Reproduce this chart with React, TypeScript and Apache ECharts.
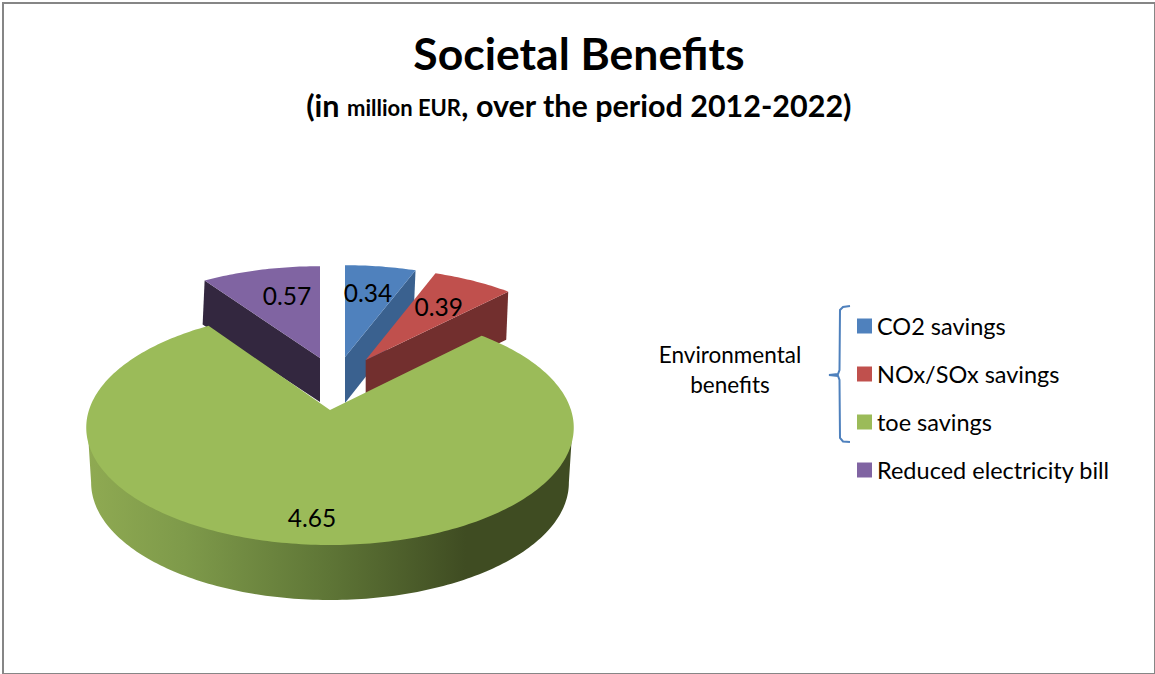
import React, { useEffect, useRef } from "react";
import * as echarts from "echarts";

const categories = ["CO2 savings", "NOx/SOx savings", "toe savings", "Reduced electricity bill"];
const values = [0.34, 0.39, 4.65, 0.57];
const topColors = ["#4F81BD", "#C0504D", "#9BBB59", "#8064A2"];
const cutColors = ["#3A618F", "#722F2E", "#3F4C22", "#33273F"];

// Where each wedge sits once pulled out of the pie, and how it is layered.
const wedgeLayout = [
  { dx: 15, dy: -53, sx: 0.95, sy: 0.92, depth: 46, cut: "end", z: 2, labelDx: 23, labelDy: -65 },
  { dx: 35.7, dy: -50, sx: 0.94, sy: 0.92, depth: 48, cut: "end", z: 3, labelDx: 73, labelDy: -54 },
  { dx: 0, dy: 0, sx: 1, sy: 1, depth: 55, cut: "rim", z: 4, labelDx: -18, labelDy: 107 },
  { dx: -10, dy: -52, sx: 0.95, sy: 0.92, depth: 44, cut: "start", z: 1, labelDx: -33, labelDy: -63 },
];

// Tilted-disc projection of the pie's circular rim.
const PIE_X = 330;
const PIE_Y = 410;
const RADIUS_X = 241;
const RADIUS_Y = 114.75;
const PERSPECTIVE = 0.15;
const FONT = "Lato, 'Noto Sans', sans-serif";

type Pt = [number, number];

const total = values.reduce((a, b) => a + b, 0);

function rimPoint(theta: number, ax: number, ay: number, sx: number, sy: number): Pt {
  const w = 1 + PERSPECTIVE * Math.cos(theta);
  return [
    ax + (sx * RADIUS_X * Math.sin(theta)) / w,
    ay - (sy * RADIUS_Y * Math.cos(theta)) / w,
  ];
}

function wedgeAngles(index: number): [number, number] {
  const before = values.slice(0, index).reduce((a, b) => a + b, 0);
  return [(before / total) * Math.PI * 2, ((before + values[index]) / total) * Math.PI * 2];
}

function rimArc(a0: number, a1: number, ax: number, ay: number, sx: number, sy: number): Pt[] {
  const steps = Math.max(8, Math.ceil(((a1 - a0) * 180) / Math.PI));
  const out: Pt[] = [];
  for (let i = 0; i <= steps; i++) out.push(rimPoint(a0 + ((a1 - a0) * i) / steps, ax, ay, sx, sy));
  return out;
}

function renderWedge(index: number) {
  const layout = wedgeLayout[index];
  const [a0, a1] = wedgeAngles(index);
  const ax = PIE_X + layout.dx;
  const ay = PIE_Y + layout.dy;
  const children: any[] = [];

  if (layout.cut === "rim") {
    // Curved outer wall of the large wedge, between the disc's two widest points.
    // Its upper edge is tucked just under the top surface so no seam shows.
    const widest = Math.acos(-PERSPECTIVE);
    const from = widest;
    const to = Math.PI * 2 - widest;
    const upper = rimArc(from, to, ax, ay - 2, layout.sx * 0.995, layout.sy);
    const lower = rimArc(from, to, ax, ay + layout.depth, layout.sx * 0.98, layout.sy);
    children.push({
      type: "polygon",
      shape: { points: [...upper, ...lower.reverse()] },
      style: {
        fill: new echarts.graphic.LinearGradient(0, 0, 1, 0, [
          { offset: 0, color: "#8FAA52" },
          { offset: 0.2, color: "#7E9A4A" },
          { offset: 0.5, color: "#5E7536" },
          { offset: 0.78, color: "#3F4C22" },
          { offset: 1, color: "#3F4C22" },
        ]),
      },
    });
  } else {
    // Flat cut face showing below the top surface.
    const edge = rimPoint(layout.cut === "end" ? a1 : a0, ax, ay, layout.sx, layout.sy);
    children.push({
      type: "polygon",
      shape: {
        points: [
          [ax, ay],
          edge,
          [edge[0] - 2, edge[1] + layout.depth],
          [ax, ay + layout.depth],
        ],
      },
      style: { fill: cutColors[index] },
    });
  }

  children.push({
    type: "polygon",
    shape: { points: [[ax, ay], ...rimArc(a0, a1, ax, ay, layout.sx, layout.sy)] },
    style: { fill: topColors[index] },
  });

  children.push({
    type: "text",
    x: ax + layout.labelDx,
    y: ay + layout.labelDy,
    z2: 10,
    style: {
      text: values[index].toFixed(2),
      fill: "#000",
      font: `24.5px ${FONT}`,
      textAlign: "center",
      textVerticalAlign: "middle",
    },
  });

  return { type: "group", children };
}

export default function App() {
  const ref = useRef<HTMLDivElement>(null);

  useEffect(() => {
    if (!ref.current) return;
    const chart = echarts.init(ref.current, undefined, { renderer: "svg" });
    chart.setOption({
      animation: false,
      backgroundColor: "#fff",
      title: [
        {
          text: "Societal Benefits",
          left: 579,
          top: 30,
          textAlign: "center",
          padding: 0,
          textStyle: { fontFamily: FONT, fontSize: 44.5, fontWeight: "bold", color: "#000" },
        },
        {
          text: "{big|(in }{small|million EUR}{big|, over the period 2012-2022)}",
          left: 579,
          top: 89,
          textAlign: "center",
          padding: 0,
          textStyle: {
            rich: {
              big: { fontFamily: FONT, fontSize: 30.5, fontWeight: "bold", color: "#000" },
              small: {
                fontFamily: FONT,
                fontSize: 22,
                fontWeight: "bold",
                color: "#000",
                verticalAlign: "bottom",
                padding: [0, 0, 2, 0],
              },
            },
          },
        },
      ],
      legend: {
        orient: "vertical",
        left: 857,
        top: 314,
        padding: 0,
        itemWidth: 15,
        itemHeight: 15,
        itemGap: 24,
        icon: "rect",
        data: categories,
        selectedMode: false,
        textStyle: { fontFamily: FONT, fontSize: 23.5, color: "#000", lineHeight: 22 },
      },
      series: categories.map((name, i) => ({
        type: "custom",
        name,
        coordinateSystem: "none",
        z: wedgeLayout[i].z,
        silent: true,
        itemStyle: { color: topColors[i] },
        data: [values[i]],
        renderItem: () => renderWedge(i),
      })),
      graphic: [
        {
          type: "rect",
          shape: { x: 3, y: 3, width: 1152, height: 671 },
          style: { fill: "none", stroke: "#868686", lineWidth: 2 },
          silent: true,
        },
        {
          type: "text",
          x: 730,
          y: 354,
          style: { text: "Environmental", font: `22.5px ${FONT}`, fill: "#000", textAlign: "center", textVerticalAlign: "middle" },
        },
        {
          type: "text",
          x: 730,
          y: 384,
          style: { text: "benefits", font: `22.5px ${FONT}`, fill: "#000", textAlign: "center", textVerticalAlign: "middle" },
        },
        {
          type: "polyline",
          shape: {
            points: [
              [850, 306], [843, 307], [840, 310], [839.5, 370], [838, 374], [829, 375],
              [838, 376], [839.5, 380], [840, 438], [843, 441.5], [850, 442],
            ],
          },
          style: { fill: "none", stroke: "#4F81BD", lineWidth: 2 },
        },
      ],
    });
    return () => chart.dispose();
  }, []);

  return <div ref={ref} style={{ position: "fixed", left: 0, top: 0, width: 1155, height: 674 }} />;
}
